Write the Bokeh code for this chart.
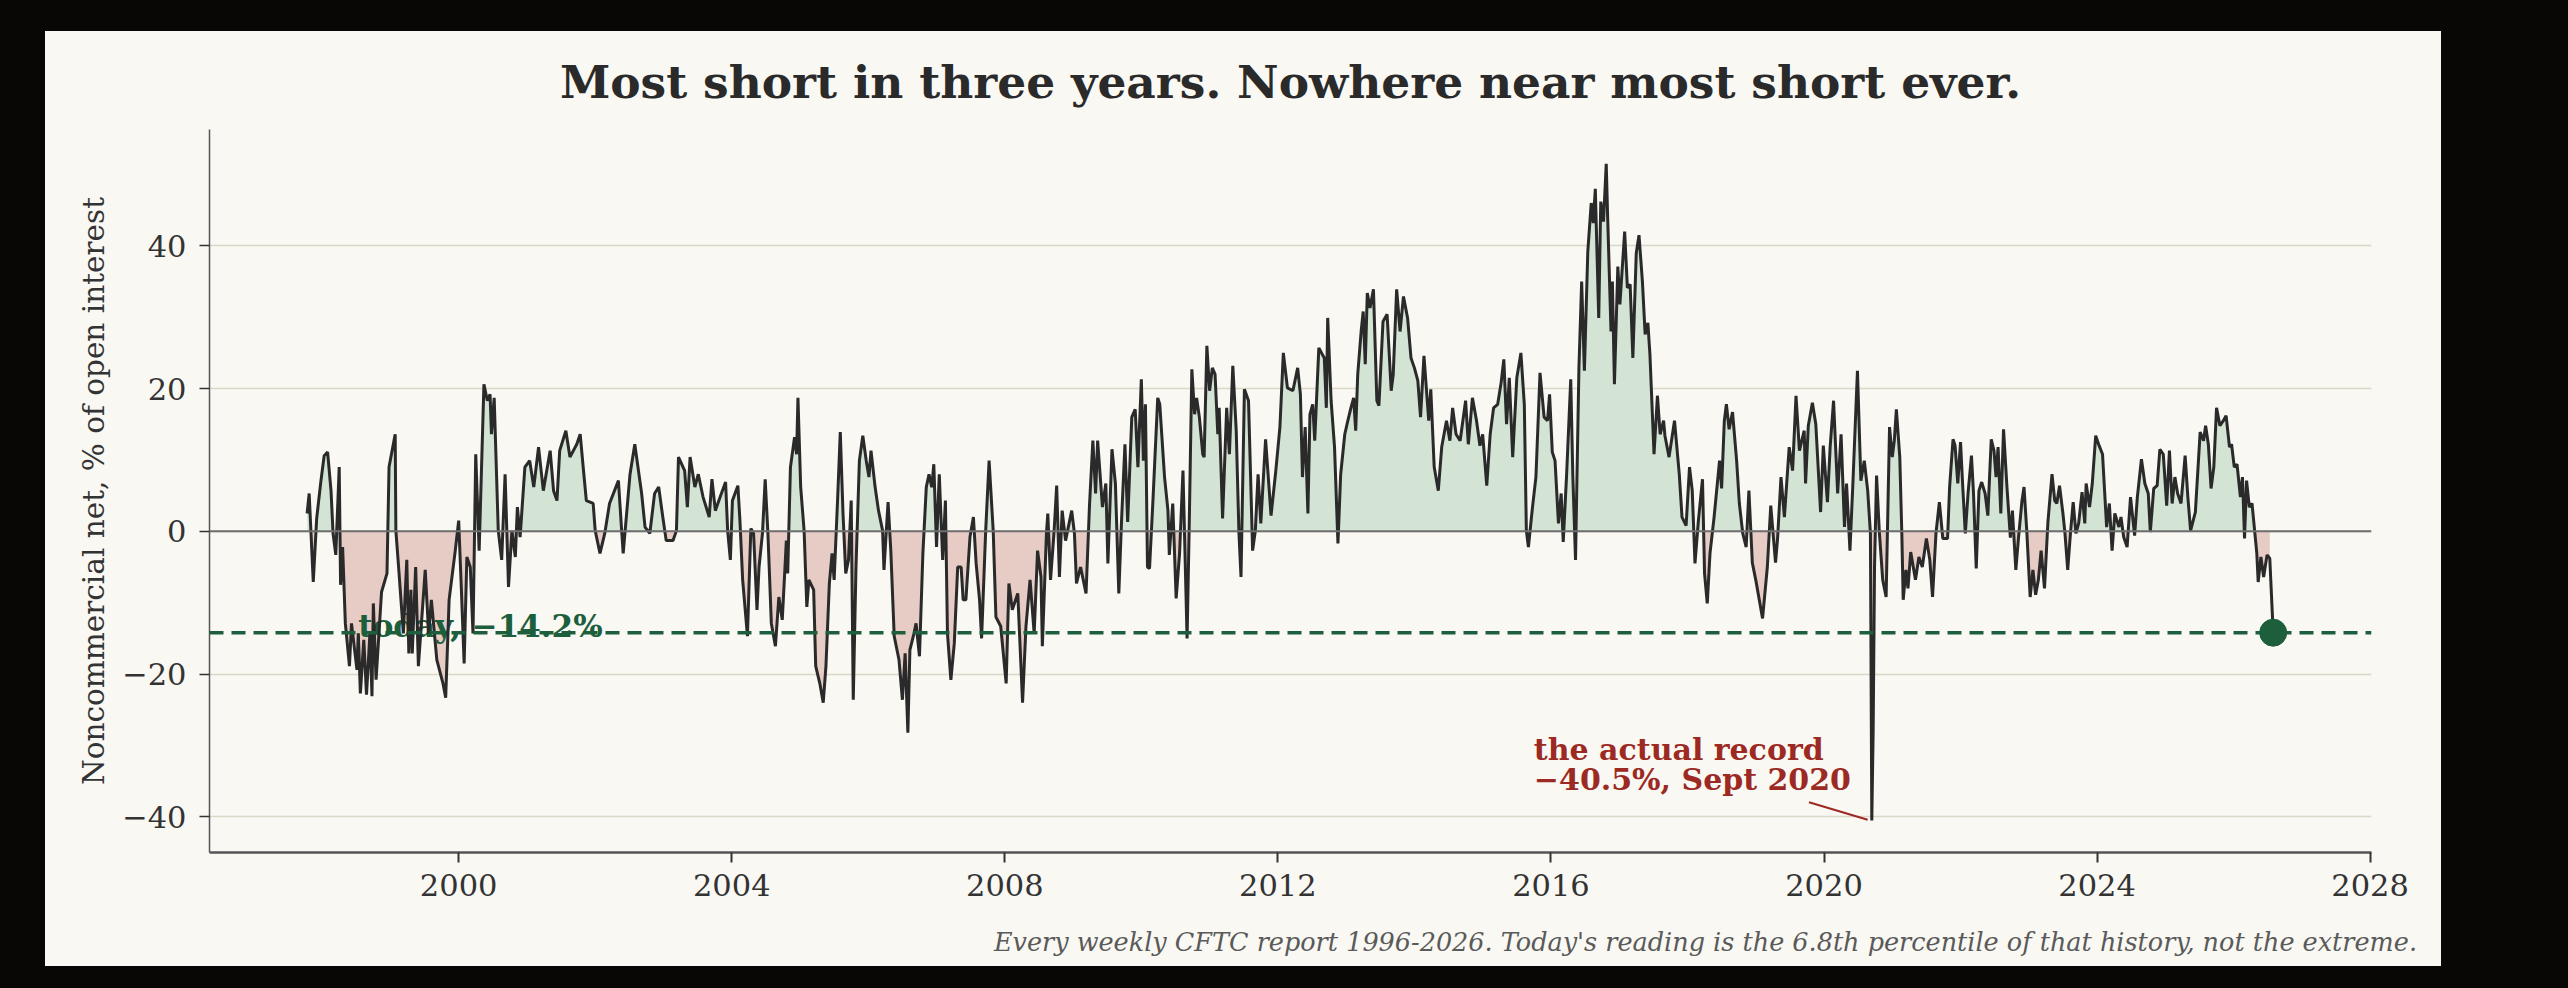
import numpy as np
from bokeh.plotting import figure
from bokeh.layouts import column
from bokeh.models import Range1d, FixedTicker, Span, Label, Title, Div
from bokeh.core.properties import value
from bokeh.embed import file_html
from bokeh.resources import INLINE

# weekly CFTC noncommercial net positioning, % of open interest (turning points)
report_dates = [
    1997.78, 1997.81, 1997.87, 1997.92, 1997.98, 1998.03, 1998.08, 1998.13, 1998.16, 1998.20,
    1998.25, 1998.27, 1998.30, 1998.34, 1998.40, 1998.43, 1998.51, 1998.53, 1998.56, 1998.61,
    1998.65, 1998.70, 1998.73, 1998.75, 1998.79, 1998.87, 1998.95, 1998.98, 1999.07, 1999.08,
    1999.12, 1999.19, 1999.24, 1999.27, 1999.30, 1999.32, 1999.37, 1999.41, 1999.51, 1999.56,
    1999.60, 1999.68, 1999.77, 1999.81, 1999.86, 1999.95, 2000.00, 2000.04, 2000.08, 2000.12,
    2000.17, 2000.21, 2000.25, 2000.30, 2000.37, 2000.42, 2000.46, 2000.48, 2000.52, 2000.58,
    2000.63, 2000.68, 2000.73, 2000.78, 2000.83, 2000.86, 2000.90, 2000.97, 2001.04, 2001.10,
    2001.17, 2001.24, 2001.34, 2001.39, 2001.44, 2001.48, 2001.57, 2001.63, 2001.73, 2001.78,
    2001.82, 2001.87, 2001.97, 2002.00, 2002.07, 2002.14, 2002.21, 2002.34, 2002.39, 2002.41,
    2002.51, 2002.58, 2002.68, 2002.73, 2002.80, 2002.87, 2002.93, 2002.99, 2003.04, 2003.14,
    2003.19, 2003.22, 2003.31, 2003.35, 2003.39, 2003.46, 2003.51, 2003.58, 2003.67, 2003.71,
    2003.76, 2003.83, 2003.91, 2003.94, 2003.98, 2004.01, 2004.09, 2004.12, 2004.16, 2004.23,
    2004.28, 2004.32, 2004.37, 2004.40, 2004.45, 2004.49, 2004.53, 2004.58, 2004.64, 2004.69,
    2004.74, 2004.80, 2004.82, 2004.86, 2004.92, 2004.95, 2004.97, 2005.01, 2005.06, 2005.10,
    2005.13, 2005.20, 2005.23, 2005.29, 2005.34, 2005.38, 2005.43, 2005.47, 2005.50, 2005.55,
    2005.59, 2005.63, 2005.67, 2005.71, 2005.75, 2005.78, 2005.82, 2005.87, 2005.92, 2005.97,
    2006.01, 2006.04, 2006.10, 2006.15, 2006.21, 2006.23, 2006.29, 2006.33, 2006.38, 2006.45,
    2006.50, 2006.54, 2006.58, 2006.61, 2006.67, 2006.70, 2006.75, 2006.80, 2006.85, 2006.89,
    2006.93, 2006.96, 2007.00, 2007.04, 2007.09, 2007.13, 2007.16, 2007.21, 2007.26, 2007.31,
    2007.36, 2007.39, 2007.43, 2007.49, 2007.54, 2007.58, 2007.63, 2007.66, 2007.72, 2007.77,
    2007.83, 2007.87, 2007.94, 2008.02, 2008.06, 2008.11, 2008.19, 2008.26, 2008.31, 2008.37,
    2008.43, 2008.48, 2008.53, 2008.55, 2008.61, 2008.63, 2008.67, 2008.72, 2008.76, 2008.80,
    2008.84, 2008.89, 2008.98, 2009.02, 2009.05, 2009.11, 2009.19, 2009.24, 2009.29, 2009.33,
    2009.36, 2009.43, 2009.48, 2009.51, 2009.57, 2009.62, 2009.67, 2009.71, 2009.76, 2009.80,
    2009.86, 2009.91, 2009.95, 2010.00, 2010.03, 2010.06, 2010.09, 2010.12, 2010.17, 2010.24,
    2010.27, 2010.34, 2010.39, 2010.41, 2010.46, 2010.51, 2010.56, 2010.61, 2010.67, 2010.70,
    2010.74, 2010.78, 2010.81, 2010.85, 2010.90, 2010.92, 2010.96, 2011.00, 2011.04, 2011.08,
    2011.12, 2011.14, 2011.19, 2011.25, 2011.29, 2011.34, 2011.39, 2011.43, 2011.46, 2011.51,
    2011.57, 2011.61, 2011.63, 2011.67, 2011.71, 2011.75, 2011.82, 2011.90, 2011.97, 2012.03,
    2012.08, 2012.14, 2012.22, 2012.29, 2012.33, 2012.36, 2012.40, 2012.44, 2012.47, 2012.51,
    2012.54, 2012.60, 2012.65, 2012.68, 2012.71, 2012.73, 2012.78, 2012.83, 2012.88, 2012.92,
    2012.98, 2013.02, 2013.07, 2013.11, 2013.14, 2013.17, 2013.22, 2013.25, 2013.28, 2013.31,
    2013.35, 2013.40, 2013.45, 2013.48, 2013.54, 2013.60, 2013.66, 2013.69, 2013.74, 2013.79,
    2013.84, 2013.90, 2013.95, 2014.00, 2014.05, 2014.09, 2014.14, 2014.21, 2014.24, 2014.29,
    2014.35, 2014.40, 2014.47, 2014.52, 2014.56, 2014.61, 2014.67, 2014.75, 2014.79, 2014.85,
    2014.91, 2014.96, 2015.00, 2015.06, 2015.11, 2015.16, 2015.22, 2015.27, 2015.31, 2015.35,
    2015.39, 2015.44, 2015.50, 2015.56, 2015.61, 2015.64, 2015.67, 2015.73, 2015.78, 2015.84,
    2015.90, 2015.95, 2015.98, 2016.02, 2016.06, 2016.11, 2016.15, 2016.18, 2016.23, 2016.29,
    2016.32, 2016.36, 2016.41, 2016.45, 2016.49, 2016.54, 2016.59, 2016.62, 2016.65, 2016.70,
    2016.73, 2016.77, 2016.81, 2016.83, 2016.88, 2016.90, 2016.93, 2016.98, 2017.01, 2017.08,
    2017.12, 2017.16, 2017.20, 2017.25, 2017.29, 2017.34, 2017.38, 2017.42, 2017.45, 2017.51,
    2017.56, 2017.60, 2017.65, 2017.67, 2017.73, 2017.81, 2017.88, 2017.92, 2017.98, 2018.03,
    2018.07, 2018.11, 2018.16, 2018.22, 2018.25, 2018.29, 2018.33, 2018.39, 2018.47, 2018.50,
    2018.54, 2018.57, 2018.61, 2018.66, 2018.72, 2018.76, 2018.81, 2018.86, 2018.90, 2018.95,
    2019.00, 2019.10, 2019.17, 2019.22, 2019.29, 2019.32, 2019.37, 2019.42, 2019.49, 2019.54,
    2019.59, 2019.64, 2019.71, 2019.73, 2019.77, 2019.83, 2019.88, 2019.95, 2019.99, 2020.05,
    2020.09, 2020.14, 2020.20, 2020.25, 2020.30, 2020.33, 2020.38, 2020.42, 2020.49, 2020.54,
    2020.59, 2020.64, 2020.68, 2020.70, 2020.72, 2020.74, 2020.77, 2020.81, 2020.86, 2020.91,
    2020.96, 2021.00, 2021.03, 2021.06, 2021.11, 2021.14, 2021.16, 2021.20, 2021.23, 2021.27,
    2021.34, 2021.39, 2021.44, 2021.50, 2021.55, 2021.59, 2021.64, 2021.69, 2021.74, 2021.81,
    2021.84, 2021.89, 2021.92, 2021.96, 2022.00, 2022.03, 2022.07, 2022.11, 2022.16, 2022.19,
    2022.23, 2022.27, 2022.31, 2022.36, 2022.40, 2022.45, 2022.49, 2022.52, 2022.55, 2022.59,
    2022.63, 2022.68, 2022.73, 2022.76, 2022.81, 2022.85, 2022.90, 2022.93, 2022.97, 2023.02,
    2023.06, 2023.10, 2023.14, 2023.18, 2023.23, 2023.28, 2023.34, 2023.38, 2023.41, 2023.45,
    2023.50, 2023.53, 2023.57, 2023.61, 2023.65, 2023.69, 2023.73, 2023.78, 2023.82, 2023.84,
    2023.89, 2023.93, 2023.98, 2024.03, 2024.08, 2024.14, 2024.18, 2024.22, 2024.26, 2024.32,
    2024.35, 2024.39, 2024.44, 2024.49, 2024.55, 2024.59, 2024.65, 2024.70, 2024.75, 2024.78,
    2024.83, 2024.88, 2024.92, 2024.97, 2025.02, 2025.06, 2025.10, 2025.14, 2025.18, 2025.23,
    2025.29, 2025.33, 2025.37, 2025.44, 2025.51, 2025.56, 2025.59, 2025.63, 2025.67, 2025.71,
    2025.75, 2025.80, 2025.85, 2025.89, 2025.94, 2025.97, 2026.01, 2026.05, 2026.10, 2026.13,
    2026.16, 2026.19, 2026.23, 2026.27, 2026.31, 2026.34, 2026.36, 2026.40, 2026.44, 2026.49,
    2026.53, 2026.58,
]
net_pct = [
    2.5, 5.3, -7.1, 1.8, 6.9, 10.6, 11.1, 5.7, -0.3, -3.3,
    9.0, -7.5, -2.2, -12.9, -18.9, -12.9, -19.4, -14.3, -22.7, -15.2,
    -22.9, -14.3, -23.1, -10.1, -20.8, -8.5, -5.9, 9.0, 13.6, 0.1,
    -5.0, -14.3, -4.0, -17.1, -8.2, -17.1, -5.0, -18.9, -5.4, -14.3,
    -9.6, -18.0, -21.3, -23.3, -9.6, -2.7, 1.5, -8.2, -18.5, -3.6,
    -5.0, -14.3, 10.8, -2.7, 20.6, 18.3, 19.2, 13.6, 18.7, 0.1,
    -4.0, 8.0, -7.8, 0.1, -3.6, 3.4, -0.8, 9.0, 9.9, 6.2,
    11.8, 5.7, 11.3, 5.7, 4.3, 11.3, 14.1, 10.4, 12.2, 13.6,
    9.4, 4.3, 3.9, 0.1, -3.1, -0.3, 3.9, 7.1, -0.3, -3.1,
    8.0, 12.2, 5.3, 0.6, -0.3, 5.3, 6.2, 2.0, -1.3, -1.3,
    0.1, 10.4, 8.5, 3.4, 10.4, 6.2, 8.0, 4.8, 2.0, 7.3,
    2.9, 4.8, 6.9, 0.1, -4.0, 4.3, 6.4, 1.5, -6.8, -14.7,
    0.4, -0.3, -11.0, -5.0, -0.3, 7.3, -0.3, -12.9, -16.1, -9.2,
    -12.4, -1.3, -5.9, 9.0, 13.2, 10.8, 18.7, 6.2, 0.1, -10.6,
    -6.8, -8.2, -18.9, -21.3, -24.0, -18.9, -7.3, -3.1, -6.8, 4.3,
    13.9, 2.5, -5.9, -4.0, 4.3, -23.6, -5.0, 9.9, 13.4, 9.9,
    7.6, 11.3, 6.2, 2.9, 0.1, -5.4, 4.1, -2.7, -14.7, -18.0,
    -23.6, -17.1, -28.2, -16.6, -14.3, -12.9, -17.5, -3.1, 6.2, 8.0,
    6.2, 9.4, -2.2, 8.0, -4.0, 4.3, -14.3, -20.8, -15.7, -5.0,
    -5.0, -9.6, -9.6, -0.8, 2.0, -4.5, -9.6, -15.0, 0.1, 9.9,
    0.1, -12.0, -13.3, -21.3, -7.3, -11.0, -8.7, -24.0, -13.3, -6.8,
    -14.3, -2.7, -6.4, -16.1, -0.3, 2.5, -6.8, -0.3, 6.4, -6.4,
    2.9, -1.3, 2.9, -0.3, -7.3, -5.0, -8.7, 3.5, 12.7, 5.3,
    12.7, 3.4, 6.7, -4.5, 11.5, 6.7, -8.7, 1.5, 12.2, 1.3,
    16.0, 17.1, 9.0, 21.3, 9.9, 17.8, -5.0, -5.2, 4.3, 18.7,
    17.8, 7.6, 2.9, -3.3, 3.9, -9.4, -3.1, 8.5, -15.0, 0.0,
    22.7, 16.4, 18.7, 16.0, 10.8, 10.4, 26.0, 19.7, 22.9, 22.0,
    13.6, 17.3, 1.8, 17.3, 10.8, 23.2, 14.1, -0.3, -6.4, 19.9,
    18.3, 4.3, -2.7, 0.1, 8.0, 1.1, 12.9, 2.2, 8.5, 14.6,
    25.0, 20.1, 19.7, 22.9, 19.2, 7.6, 14.6, 2.5, 16.4, 17.8,
    12.7, 25.7, 24.8, 24.3, 17.3, 29.9, 18.3, 11.8, -1.7, 8.0,
    13.6, 15.3, 17.3, 18.7, 14.1, 22.0, 28.0, 30.8, 23.4, 33.4,
    31.3, 33.9, 18.3, 17.6, 29.4, 30.4, 19.7, 22.0, 33.9, 28.0,
    32.9, 29.9, 24.3, 22.9, 21.1, 16.0, 24.6, 15.5, 19.9, 9.0,
    5.7, 11.8, 15.5, 12.7, 17.3, 13.6, 12.7, 18.3, 12.2, 18.7,
    15.5, 12.0, 13.6, 6.4, 13.6, 17.3, 17.8, 20.8, 24.1, 15.0,
    21.5, 10.4, 21.5, 25.0, 17.8, 0.1, -2.2, 3.4, 7.6, 22.2,
    16.0, 15.5, 19.2, 11.1, 9.9, 1.1, 5.3, -1.5, 8.0, 21.3,
    8.0, -4.0, 22.9, 35.0, 22.5, 39.2, 46.0, 43.2, 48.0, 29.9,
    46.2, 43.4, 51.5, 44.3, 28.0, 35.0, 20.6, 37.1, 31.8, 42.0,
    34.1, 34.6, 24.3, 39.0, 41.5, 35.0, 27.6, 29.2, 24.8, 10.8,
    19.0, 13.6, 15.5, 13.4, 10.4, 15.5, 8.0, 2.0, 0.8, 9.0,
    5.7, -4.5, 1.5, 7.3, -5.9, -10.1, -3.1, 2.0, 9.9, 6.0,
    15.5, 17.8, 14.3, 16.7, 9.9, 3.9, -0.3, -2.2, 5.7, -4.4,
    -6.8, -12.2, -5.0, 3.6, -4.4, -1.0, 7.6, 2.0, 11.8, 8.5,
    19.0, 11.3, 14.1, 6.7, 14.8, 18.0, 15.0, 2.7, 12.0, 4.1,
    11.8, 18.3, 5.3, 13.6, 0.6, 6.7, -2.7, 6.0, 22.5, 7.1,
    9.9, 5.7, -0.3, -40.5, -28.0, -5.0, 7.8, 0.0, -6.8, -9.2,
    14.6, 10.4, 12.7, 17.1, 10.4, -0.3, -9.6, -5.4, -8.0, -2.9,
    -6.8, -3.6, -5.0, -1.0, -4.0, -9.2, -0.3, 4.1, -1.0, -1.0,
    6.2, 12.9, 12.0, 6.7, 12.5, 6.7, -0.3, 5.3, 10.6, 5.3,
    -5.2, 5.7, 6.9, 5.3, 2.2, 12.9, 11.3, 7.6, 11.8, 2.5,
    14.3, 6.2, -0.9, 2.9, -5.4, -0.8, 4.3, 6.2, 0.1, -9.2,
    -5.4, -8.9, -6.8, -2.7, -8.0, 1.3, 8.0, 4.3, 3.9, 6.4,
    2.5, -0.3, -5.4, -0.3, 4.1, -0.3, 1.1, 5.5, 1.1, 6.7,
    3.4, 6.7, 13.4, 12.0, 10.8, 0.6, 3.9, -2.7, 2.5, 0.6,
    2.0, -0.8, -2.2, 4.8, -0.6, 4.8, 10.1, 6.7, 5.3, -0.1,
    6.0, 6.4, 11.5, 10.8, 3.6, 11.3, 3.9, 7.6, 5.3, 3.9,
    10.6, 4.8, 0.1, 2.7, 13.9, 12.7, 14.8, 12.2, 6.0, 9.0,
    17.3, 14.8, 15.5, 16.2, 11.8, 12.2, 9.0, 9.4, 4.8, 7.6,
    -1.0, 7.1, 3.4, 3.9, -0.1, -3.1, -7.1, -3.6, -6.4, -3.3,
    -3.8, -14.2,
]

today_date = 2026.58
today_pct = -14.2

x_ticks = [2000, 2004, 2008, 2012, 2016, 2020, 2024, 2028]
y_ticks = [-40, -20, 0, 20, 40]
y_tick_labels = {-40: "\u221240", -20: "\u221220", 0: "0", 20: "20", 40: "40"}

title_text = "Most short in three years. Nowhere near most short ever."
y_label = "Noncommercial net, % of open interest"
note_text = ("Every weekly CFTC report 1996-2026. Today's reading is the 6.8th "
             "percentile of that history, not the extreme.")

SERIF = "DejaVu Serif"
BG = "#f9f8f3"
GREEN = "#1d5e3c"
RED = "#9c2a23"
INK = "#2a2a2a"

p = figure(width=2396, height=891, output_backend="svg", toolbar_location=None,
           x_range=Range1d(1996.35, 2028.02), y_range=Range1d(-45.0, 56.3),
           min_border_left=164, min_border_right=70, min_border_top=96, min_border_bottom=70,
           margin=0)
# page colour comes from css so the frame edge does not leave a seam
p.background_fill_color = None
p.border_fill_color = None
p.styles = {"background-color": BG}
p.outline_line_color = None

p.title = Title(text=title_text, align="center", text_font=SERIF, text_font_style="bold",
                text_font_size="45.5px", text_color=INK, standoff=42)

# fills above / below zero, with the zero crossings added so the fill meets the line
xs = np.array(report_dates[:-1])
ys = np.array(net_pct[:-1])
fx, fy = [xs[0]], [ys[0]]
for i in range(1, len(xs)):
    if ys[i - 1] * ys[i] < 0:
        t = ys[i - 1] / (ys[i - 1] - ys[i])
        fx.append(xs[i - 1] + t * (xs[i] - xs[i - 1]))
        fy.append(0.0)
    fx.append(xs[i])
    fy.append(ys[i])
fx = np.array(fx)
fy = np.array(fy)
p.varea(x=fx, y1=0, y2=np.maximum(fy, 0), fill_color="#d3e4d5", fill_alpha=1.0)
p.varea(x=fx, y1=0, y2=np.minimum(fy, 0), fill_color="#e7cbc5", fill_alpha=1.0)

p.text(x=[1998.53], y=[-13.2], text=["today, \u221214.2%"], text_font=value(SERIF),
       text_font_style="bold", text_font_size="31px", text_color=GREEN,
       text_baseline="alphabetic", text_align="left")

p.line(report_dates, net_pct, line_color=INK, line_width=3.0)

p.add_layout(Span(location=0, dimension="width", line_color="#6e6e6e", line_width=2))
p.add_layout(Span(location=today_pct, dimension="width", line_color=GREEN,
                  line_width=3.5, line_dash="14 8"))
p.scatter([today_date], [today_pct], size=27, color=GREEN)

# annotation for the record low
p.segment(x0=[2019.78], y0=[-37.96], x1=[2020.64], y1=[-40.4], line_color=RED, line_width=2)
p.add_layout(Label(x=2015.75, y=-30.5, text="the actual record", text_font=SERIF,
                   text_font_style="bold", text_font_size="30px", text_color=RED,
                   text_baseline="alphabetic"))
p.add_layout(Label(x=2015.75, y=-34.8, text="\u221240.5%, Sept 2020", text_font=SERIF,
                   text_font_style="bold", text_font_size="30px", text_color=RED,
                   text_baseline="alphabetic"))

# axes
p.xaxis.ticker = FixedTicker(ticks=x_ticks)
p.xaxis.major_label_overrides = {t: str(t) for t in x_ticks}
p.yaxis.ticker = FixedTicker(ticks=y_ticks)
p.yaxis.major_label_overrides = y_tick_labels
p.yaxis.axis_label = y_label
for ax in (p.xaxis[0], p.yaxis[0]):
    ax.major_label_text_font = SERIF
    ax.major_label_text_font_size = "30.5px"
    ax.major_label_text_color = "#333333"
    ax.major_tick_in = 0
    ax.major_tick_out = 10
    ax.minor_tick_line_color = None
    ax.major_tick_line_color = "#333333"
    ax.axis_line_color = "#555555"
p.xaxis.axis_line_width = 2.5
p.xaxis.major_tick_line_width = 2
p.xaxis.major_label_standoff = 11
p.yaxis.axis_line_width = 1.5
p.yaxis.major_tick_line_width = 1.5
p.yaxis.major_label_standoff = 13
p.yaxis.axis_label_text_font = SERIF
p.yaxis.axis_label_text_font_style = "normal"
p.yaxis.axis_label_text_font_size = "29.5px"
p.yaxis.axis_label_text_color = "#333333"
p.yaxis.axis_label_standoff = 8

p.xgrid.visible = False
p.ygrid.grid_line_color = "#dcd7c7"
p.ygrid.grid_line_width = 1.5

# footnote strip under the plot
note = Div(text=note_text, width=2396, height=44, margin=0,
           styles={"background-color": BG, "font-family": SERIF, "font-style": "italic",
                   "font-size": "25.5px", "color": "#5a5a5a", "text-align": "right",
                   "line-height": "40px", "padding-right": "24px", "box-sizing": "border-box",
                   "white-space": "nowrap"})

page = column(p, note, spacing=0, margin=(31, 0, 0, 45))

html = file_html(page, INLINE)
head, sep, rest = html.rpartition("</head>")
html = head + sep + rest.replace("<body", '<body style="background-color:#080705;"', 1)
open("out.html", "w").write(html)
